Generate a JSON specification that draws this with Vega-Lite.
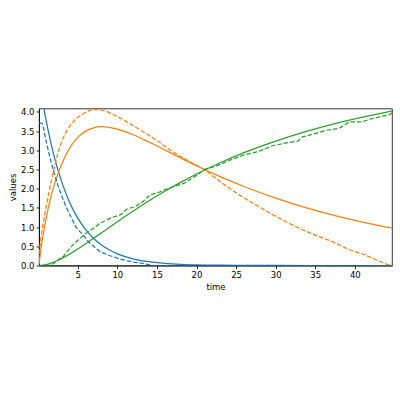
{
  "$schema": "https://vega.github.io/schema/vega-lite/v6.json",
  "width": 353,
  "height": 157,
  "autosize": {"type": "none"},
  "padding": {"left": 39, "top": 108.5, "right": 8, "bottom": 134.5},
  "config": {
    "view": {"stroke": "black", "strokeWidth": 0.8},
    "font": "DejaVu Sans",
    "axis": {
      "grid": false,
      "domainColor": "black",
      "domainWidth": 0.8,
      "tickColor": "black",
      "tickWidth": 0.8,
      "tickSize": 3,
      "labelColor": "black",
      "labelFont": "DejaVu Sans",
      "labelFontSize": 8.5,
      "labelPadding": 2,
      "titleColor": "black",
      "titleFont": "DejaVu Sans",
      "titleFontSize": 8.5,
      "titleFontWeight": "normal"
    }
  },
  "datasets": {
    "det": [
      {"series": "A", "time": 0.1, "value": 4.862}, {"series": "A", "time": 0.3, "value": 4.597}, {"series": "A", "time": 0.5, "value": 4.347}, {"series": "A", "time": 0.75, "value": 4.053}, {"series": "A", "time": 1, "value": 3.779}, {"series": "A", "time": 1.5, "value": 3.285}, {"series": "A", "time": 2, "value": 2.856}, {"series": "A", "time": 2.5, "value": 2.483}, {"series": "A", "time": 3, "value": 2.159}, {"series": "A", "time": 4, "value": 1.631}, {"series": "A", "time": 5, "value": 1.233}, {"series": "A", "time": 6, "value": 0.932}, {"series": "A", "time": 7, "value": 0.704}, {"series": "A", "time": 8, "value": 0.532}, {"series": "A", "time": 9, "value": 0.402}, {"series": "A", "time": 10, "value": 0.304}, {"series": "A", "time": 12, "value": 0.174}, {"series": "A", "time": 14, "value": 0.099}, {"series": "A", "time": 16, "value": 0.057}, {"series": "A", "time": 18, "value": 0.032}, {"series": "A", "time": 20, "value": 0.018}, {"series": "A", "time": 23, "value": 0.008}, {"series": "A", "time": 26, "value": 0.003}, {"series": "A", "time": 30, "value": 0.001}, {"series": "A", "time": 34, "value": 0.0}, {"series": "A", "time": 38, "value": 0.0}, {"series": "A", "time": 42, "value": 0.0}, {"series": "A", "time": 44.7, "value": 0.0},
      {"series": "B", "time": 0.1, "value": 0.04}, {"series": "B", "time": 0.3, "value": 0.36}, {"series": "B", "time": 0.5, "value": 0.64}, {"series": "B", "time": 0.75, "value": 0.95}, {"series": "B", "time": 1, "value": 1.23}, {"series": "B", "time": 1.5, "value": 1.70}, {"series": "B", "time": 2, "value": 2.08}, {"series": "B", "time": 2.5, "value": 2.39}, {"series": "B", "time": 3, "value": 2.655}, {"series": "B", "time": 4, "value": 3.067}, {"series": "B", "time": 5, "value": 3.337}, {"series": "B", "time": 6, "value": 3.501}, {"series": "B", "time": 7, "value": 3.587}, {"series": "B", "time": 8, "value": 3.615}, {"series": "B", "time": 9, "value": 3.600}, {"series": "B", "time": 10, "value": 3.555}, {"series": "B", "time": 12, "value": 3.407}, {"series": "B", "time": 14, "value": 3.216}, {"series": "B", "time": 16, "value": 3.010}, {"series": "B", "time": 18, "value": 2.802}, {"series": "B", "time": 20, "value": 2.599}, {"series": "B", "time": 23, "value": 2.315}, {"series": "B", "time": 26, "value": 2.058}, {"series": "B", "time": 30, "value": 1.757}, {"series": "B", "time": 34, "value": 1.497}, {"series": "B", "time": 38, "value": 1.276}, {"series": "B", "time": 42, "value": 1.087}, {"series": "B", "time": 44.7, "value": 0.976},
      {"series": "C", "time": 0.1, "value": 0.0}, {"series": "C", "time": 0.3, "value": 0.003}, {"series": "C", "time": 0.5, "value": 0.007}, {"series": "C", "time": 0.75, "value": 0.015}, {"series": "C", "time": 1, "value": 0.025}, {"series": "C", "time": 1.5, "value": 0.054}, {"series": "C", "time": 2, "value": 0.091}, {"series": "C", "time": 2.5, "value": 0.136}, {"series": "C", "time": 3, "value": 0.186}, {"series": "C", "time": 4, "value": 0.301}, {"series": "C", "time": 5, "value": 0.430}, {"series": "C", "time": 6, "value": 0.567}, {"series": "C", "time": 7, "value": 0.709}, {"series": "C", "time": 8, "value": 0.853}, {"series": "C", "time": 9, "value": 0.998}, {"series": "C", "time": 10, "value": 1.141}, {"series": "C", "time": 12, "value": 1.419}, {"series": "C", "time": 14, "value": 1.685}, {"series": "C", "time": 16, "value": 1.933}, {"series": "C", "time": 18, "value": 2.166}, {"series": "C", "time": 20, "value": 2.382}, {"series": "C", "time": 23, "value": 2.677}, {"series": "C", "time": 26, "value": 2.939}, {"series": "C", "time": 30, "value": 3.242}, {"series": "C", "time": 34, "value": 3.503}, {"series": "C", "time": 38, "value": 3.724}, {"series": "C", "time": 42, "value": 3.913}, {"series": "C", "time": 44.7, "value": 4.024}
    ],
    "stoch": [
      {"series": "A", "time": 0.1, "value": 3.72}, {"series": "A", "time": 0.5, "value": 3.70}, {"series": "A", "time": 0.7, "value": 3.55}, {"series": "A", "time": 1.0, "value": 3.24}, {"series": "A", "time": 1.5, "value": 2.8}, {"series": "A", "time": 2.0, "value": 2.42}, {"series": "A", "time": 2.5, "value": 2.08}, {"series": "A", "time": 3.0, "value": 1.8}, {"series": "A", "time": 3.5, "value": 1.54}, {"series": "A", "time": 4.0, "value": 1.32}, {"series": "A", "time": 4.8, "value": 0.99}, {"series": "A", "time": 5.7, "value": 0.79}, {"series": "A", "time": 6.34, "value": 0.62}, {"series": "A", "time": 7.0, "value": 0.5}, {"series": "A", "time": 7.8, "value": 0.36}, {"series": "A", "time": 9.0, "value": 0.26}, {"series": "A", "time": 10.0, "value": 0.19}, {"series": "A", "time": 11.0, "value": 0.13}, {"series": "A", "time": 12.0, "value": 0.09}, {"series": "A", "time": 13.0, "value": 0.06}, {"series": "A", "time": 14.0, "value": 0.02}, {"series": "A", "time": 14.5, "value": 0.0}, {"series": "A", "time": 44.7, "value": 0.0},
      {"series": "B", "time": 0.1, "value": 0.3}, {"series": "B", "time": 0.5, "value": 0.95}, {"series": "B", "time": 1.0, "value": 1.53}, {"series": "B", "time": 1.5, "value": 2.05}, {"series": "B", "time": 2.0, "value": 2.52}, {"series": "B", "time": 2.5, "value": 2.93}, {"series": "B", "time": 3.0, "value": 3.25}, {"series": "B", "time": 3.5, "value": 3.47}, {"series": "B", "time": 4.2, "value": 3.70}, {"series": "B", "time": 5.0, "value": 3.86}, {"series": "B", "time": 5.7, "value": 3.96}, {"series": "B", "time": 6.5, "value": 4.04}, {"series": "B", "time": 7.2, "value": 4.07}, {"series": "B", "time": 8.0, "value": 4.05}, {"series": "B", "time": 8.8, "value": 4.0}, {"series": "B", "time": 10.0, "value": 3.88}, {"series": "B", "time": 11.0, "value": 3.77}, {"series": "B", "time": 12.6, "value": 3.57}, {"series": "B", "time": 14.0, "value": 3.39}, {"series": "B", "time": 15.0, "value": 3.26}, {"series": "B", "time": 16.7, "value": 3.0}, {"series": "B", "time": 18.0, "value": 2.84}, {"series": "B", "time": 19.2, "value": 2.70}, {"series": "B", "time": 21.1, "value": 2.49}, {"series": "B", "time": 23.0, "value": 2.18}, {"series": "B", "time": 25.1, "value": 1.88}, {"series": "B", "time": 26.8, "value": 1.66}, {"series": "B", "time": 29.3, "value": 1.36}, {"series": "B", "time": 31.3, "value": 1.14}, {"series": "B", "time": 33.4, "value": 0.93}, {"series": "B", "time": 35.5, "value": 0.75}, {"series": "B", "time": 37.2, "value": 0.62}, {"series": "B", "time": 39.3, "value": 0.41}, {"series": "B", "time": 41.0, "value": 0.30}, {"series": "B", "time": 42.7, "value": 0.15}, {"series": "B", "time": 44.2, "value": 0.02}, {"series": "B", "time": 44.7, "value": 0.0},
      {"series": "C", "time": 0.1, "value": 0.0}, {"series": "C", "time": 1.0, "value": 0.0}, {"series": "C", "time": 1.5, "value": 0.01}, {"series": "C", "time": 2.0, "value": 0.06}, {"series": "C", "time": 2.76, "value": 0.19}, {"series": "C", "time": 3.2, "value": 0.24}, {"series": "C", "time": 3.5, "value": 0.32}, {"series": "C", "time": 4.0, "value": 0.45}, {"series": "C", "time": 4.6, "value": 0.58}, {"series": "C", "time": 5.3, "value": 0.71}, {"series": "C", "time": 6.3, "value": 0.88}, {"series": "C", "time": 7.0, "value": 0.97}, {"series": "C", "time": 7.8, "value": 1.10}, {"series": "C", "time": 8.5, "value": 1.17}, {"series": "C", "time": 9.3, "value": 1.25}, {"series": "C", "time": 10.5, "value": 1.33}, {"series": "C", "time": 11.2, "value": 1.47}, {"series": "C", "time": 12.2, "value": 1.53}, {"series": "C", "time": 13.2, "value": 1.66}, {"series": "C", "time": 14.15, "value": 1.84}, {"series": "C", "time": 15.4, "value": 1.92}, {"series": "C", "time": 16.7, "value": 2.03}, {"series": "C", "time": 18.4, "value": 2.14}, {"series": "C", "time": 20.1, "value": 2.36}, {"series": "C", "time": 21.1, "value": 2.51}, {"series": "C", "time": 22.6, "value": 2.60}, {"series": "C", "time": 24.3, "value": 2.75}, {"series": "C", "time": 26.0, "value": 2.88}, {"series": "C", "time": 27.7, "value": 2.96}, {"series": "C", "time": 29.3, "value": 3.09}, {"series": "C", "time": 29.6, "value": 3.12}, {"series": "C", "time": 31.0, "value": 3.18}, {"series": "C", "time": 32.8, "value": 3.24}, {"series": "C", "time": 33.4, "value": 3.35}, {"series": "C", "time": 35.1, "value": 3.44}, {"series": "C", "time": 36.3, "value": 3.52}, {"series": "C", "time": 38.0, "value": 3.57}, {"series": "C", "time": 39.3, "value": 3.74}, {"series": "C", "time": 40.8, "value": 3.74}, {"series": "C", "time": 42.25, "value": 3.83}, {"series": "C", "time": 44.4, "value": 3.93}, {"series": "C", "time": 44.7, "value": 3.98}
    ]
  },
  "encoding": {
    "x": {
      "field": "time", "type": "quantitative",
      "scale": {"domain": [0.1, 44.7], "nice": false, "zero": false},
      "axis": {"values": [5, 10, 15, 20, 25, 30, 35, 40], "title": "time", "titleY": 21, "titleBaseline": "middle"}
    },
    "y": {
      "field": "value", "type": "quantitative",
      "scale": {"domain": [0, 4.09], "nice": false, "zero": false},
      "axis": {"values": [0, 0.5, 1, 1.5, 2, 2.5, 3, 3.5, 4], "format": ".1f", "title": "values", "titleX": -27, "titleY": 78.5, "titleBaseline": "middle", "titleAngle": -90}
    },
    "color": {
      "field": "series", "type": "nominal",
      "scale": {"domain": ["A", "B", "C"], "range": ["#1f77b4", "#ff7f0e", "#2ca02c"]},
      "legend": null
    }
  },
  "layer": [
    {
      "data": {"name": "det"},
      "mark": {"type": "line", "clip": true, "strokeWidth": 1.25, "interpolate": "monotone"}
    },
    {
      "data": {"name": "stoch"},
      "mark": {"type": "line", "clip": true, "strokeWidth": 1.25, "strokeDash": [4.5, 2]}
    }
  ]
}
